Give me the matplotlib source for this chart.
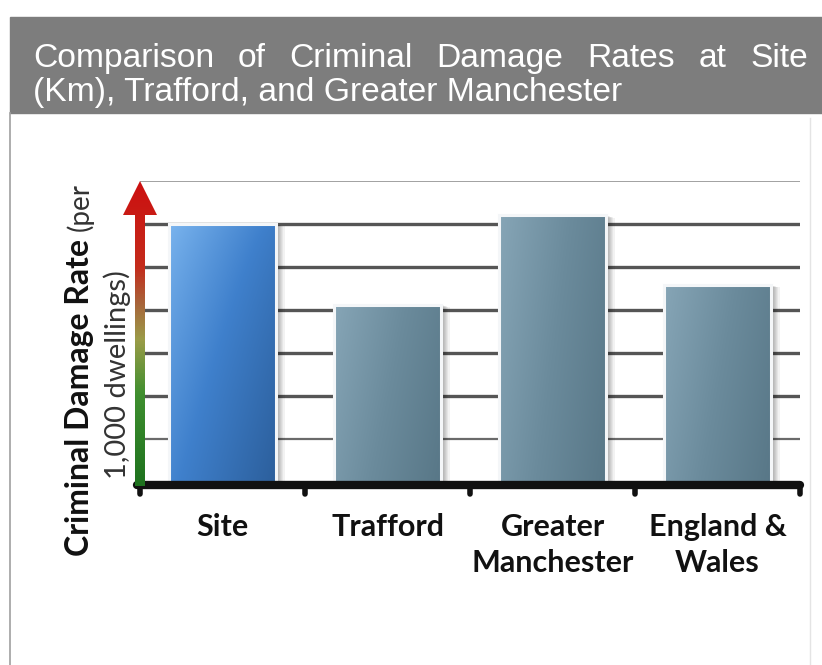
import numpy as np
import matplotlib
matplotlib.use('Agg')
import matplotlib.pyplot as plt
from matplotlib.colors import LinearSegmentedColormap
from matplotlib.patches import Polygon, Rectangle
from matplotlib.lines import Line2D
from matplotlib.transforms import offset_copy

# data (the original has no y scale, values are in gridline units)
categories = ['Site', 'Trafford', 'Greater\nManchester', 'England &\nWales']
rates = [6.0, 4.12, 6.2, 4.58]
grid_levels = [1, 2, 3, 4, 5, 6, 7]
title_line1 = 'Comparison of Criminal Damage Rates at Site'
title_line2 = '(Km), Trafford, and Greater Manchester'
ylab_bold = 'Criminal Damage Rate'
ylab_rest = '(per'
ylab_line2 = '1,000 dwellings)'

W, H = 822, 665
def fx(x):
    return x / W
def fy(y):
    return 1 - y / H

fig = plt.figure(figsize=(W / 100, H / 100), dpi=100)
fig.patch.set_facecolor('white')

# header band + frame
fig.patches.append(Rectangle((fx(10), fy(113)), fx(W - 10), 96 / H,
                             transform=fig.transFigure, color='#7d7d7d', zorder=0))
fig.lines.append(Line2D([fx(10), fx(10)], [fy(113), 0], transform=fig.transFigure,
                        color='#a0a0a0', lw=1.2))
fig.lines.append(Line2D([fx(810), fx(810)], [fy(118), 0], transform=fig.transFigure,
                        color='#e4e4e4', lw=1.0))

# title: size the second line to its width, then justify the first line
tfont = dict(family='Liberation Sans', color='white')
t2 = fig.text(fx(33), fy(101), title_line2, va='baseline', fontsize=22, **tfont)
fig.canvas.draw()
r = fig.canvas.get_renderer()
tsize = 22 * 590 / t2.get_window_extent(r).width
t2.set_fontsize(tsize)
words = title_line1.split()
txts = [fig.text(0, fy(67), w, va='baseline', fontsize=tsize, **tfont) for w in words]
fig.canvas.draw()
widths = [t.get_window_extent(r).width for t in txts]
gap = (808 - 33 - sum(widths)) / (len(words) - 1)
xpos = 33
for t, w in zip(txts, widths):
    t.set_x(fx(xpos))
    xpos += w + gap

# main axes
ax = fig.add_axes([fx(140), fy(482), 660 / W, (482 - 181) / H])
for s in ax.spines.values():
    s.set_visible(False)
ax.set_yticks([])

gcol = ['#6a6a6a', '#555555', '#555555', '#555555', '#555555', '#555555', '#9a9a9a']
glw = [1.6, 2.4, 2.4, 2.4, 2.4, 2.4, 1.3]
for lev, c, lw in zip(grid_levels, gcol, glw):
    ax.hlines(lev, -0.5, 3.5, color=c, lw=lw, zorder=1)

x = np.arange(len(categories))
bw = 0.65
bars = ax.bar(x, rates, width=bw, color='none', edgecolor='#f4f6f8', lw=2.2, zorder=4)

site_cmap = LinearSegmentedColormap.from_list('site', ['#7ab4ee', '#3f80cc', '#2c5f9c'])
grey_cmap = LinearSegmentedColormap.from_list('grey', ['#86a5b6', '#6b8b9c', '#587787'])
gx, gy = np.meshgrid(np.linspace(0, 1, 60), np.linspace(0, 1, 120))

for i, b in enumerate(bars):
    x0, w, h = b.get_x(), b.get_width(), b.get_height()
    # soft shadow
    for k in range(1, 8):
        tr = offset_copy(ax.transData, fig=fig, x=k * 1.2, y=-k * 0.3, units='dots')
        ax.add_patch(Rectangle((x0, 0), w, h, transform=tr, color='black',
                               alpha=0.05, lw=0, zorder=2))
    if i == 0:
        vals = 0.55 * gx + 0.45 * (1 - gy) ** 0.8
        cm = site_cmap
    else:
        vals = 0.75 * gx + 0.25 * (1 - gy)
        cm = grey_cmap
    im = ax.imshow(vals, extent=[x0, x0 + w, 0, h], origin='lower', aspect='auto',
                   cmap=cm, vmin=0, vmax=1, interpolation='bicubic', zorder=3)
    im.set_clip_path(b)

ax.set_xlim(-0.5, 3.5)
ax.set_ylim(0, 7)

# baseline with small round ticks
ax.plot([-0.52, 3.5], [-0.07, -0.07], color='#111111', lw=6, solid_capstyle='round',
        clip_on=False, zorder=6)
for xb in np.arange(-0.5, 4, 1.0):
    ax.plot([xb, xb], [-0.07, -0.27], color='#111111', lw=4, solid_capstyle='round',
            clip_on=False, zorder=6)

ax.set_xticks(x)
ax.set_xticklabels(categories, fontsize=22, fontweight='bold', family='Lato',
                   color='#111111', linespacing=1.35)
ax.tick_params(axis='x', length=0, pad=22)

# y arrow, green to red
aax = fig.add_axes([fx(123), fy(486), 34 / W, (486 - 181) / H])
aax.set_xlim(-17, 17)
aax.set_ylim(0, 305)
aax.axis('off')
arrow_cmap = LinearSegmentedColormap.from_list('arr', [
    (0.0, '#1e721e'), (0.3, '#3f8f2f'), (0.48, '#9b9c48'), (0.6, '#a8643a'),
    (0.72, '#c42c1c'), (1.0, '#cc1010')])
arrow = Polygon([(-5, 0), (5, 0), (5, 271), (17, 271), (0, 305), (-17, 271), (-5, 271)],
                closed=True, facecolor='none', edgecolor='none')
aax.add_patch(arrow)
im = aax.imshow(np.linspace(0, 1, 200).reshape(-1, 1), extent=[-17, 17, 0, 305],
                origin='lower', aspect='auto', cmap=arrow_cmap)
im.set_clip_path(arrow)

# y label, two rotated lines
lab = fig.text(fx(80), fy(556), ylab_bold, rotation=90, ha='center', va='bottom',
               fontsize=23, fontweight='bold', family='Lato', color='#111111')
fig.canvas.draw()
bb = lab.get_window_extent(fig.canvas.get_renderer())
fig.text(fx(80), (bb.y1 + 8) / H, ylab_rest, rotation=90, ha='center', va='bottom',
         fontsize=20, family='Lato', color='#333333')
fig.text(fx(117), fy(375), ylab_line2, rotation=90, ha='center', va='center',
         fontsize=21, family='Lato', color='#333333')

fig.savefig('out.png', dpi=100)
